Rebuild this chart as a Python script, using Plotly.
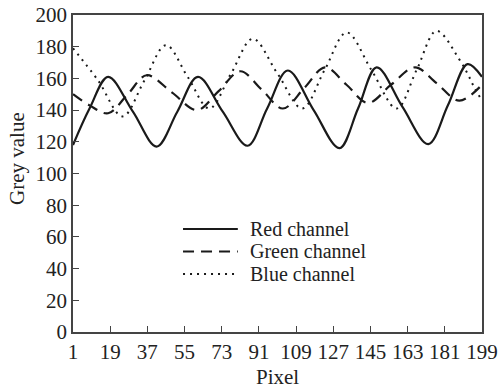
import plotly.graph_objects as go

# Red channel (solid)
red_x = [1, 9, 18, 30, 41.5, 51.5, 61.5, 73.5, 85.5, 95, 105, 117.5, 130, 139, 148, 160.5, 173, 182.5, 192, 199]
red_y = [118, 141, 161, 139, 117, 139, 161, 139, 117.5, 141, 165, 140, 116, 141, 167, 142, 118.5, 143, 169, 161]

# Green channel (dashed)
green_x = [1, 9, 18, 27.5, 36.7, 49, 61, 71.5, 82, 92.3, 102.6, 113, 123, 133.4, 143.8, 155, 166.6, 177, 188, 199]
green_y = [150, 143, 138, 150, 162, 151, 140, 152, 164.5, 153, 141, 154, 167, 156, 144.5, 156, 167, 157, 146, 156]

# Blue channel (dotted)
blue_x = [1, 13, 25, 35.5, 46, 56.5, 67, 77.5, 88, 100, 112, 122.7, 133.5, 145.6, 157.7, 167.4, 177, 188, 192, 195, 199]
blue_y = [179, 159, 136, 158.5, 181, 161, 141, 163, 185, 163, 141, 165, 189, 165, 141, 165.5, 190, 172, 163, 155, 146]

x_ticks = [1, 19, 37, 55, 73, 91, 109, 127, 145, 163, 181, 199]

series = [
    ("Red channel", red_x, red_y, "solid", 2.2),
    ("Green channel", green_x, green_y, "11px,7px", 2.2),
    ("Blue channel", blue_x, blue_y, "2px,5px", 2.0),
]

font_family = "Liberation Serif"
ink = "#1a1a1a"
txt = "#222"

fig = go.Figure()
for name, xs, ys, dash, w in series:
    fig.add_trace(go.Scatter(x=xs, y=ys, mode="lines", name=name, showlegend=False,
                             line=dict(color=ink, width=w, dash=dash, shape="spline", smoothing=1.0)))

# Hand-built legend (compact row spacing as in the reference)
legend_rows_y = [0.325, 0.254, 0.183]
shapes = []
annotations = []
for (name, _, _, dash, w), ly in zip(series, legend_rows_y):
    shapes.append(dict(type="line", xref="paper", yref="paper", x0=0.269, x1=0.403, y0=ly, y1=ly,
                       line=dict(color=ink, width=w, dash=dash)))
    annotations.append(dict(text=name, xref="paper", yref="paper", x=0.428, y=ly,
                            xanchor="left", yanchor="middle", showarrow=False,
                            font=dict(family=font_family, size=20, color=txt)))

# Axis titles
annotations.append(dict(text="Pixel", xref="paper", yref="paper", x=0.5, y=-0.142,
                        xanchor="center", yanchor="middle", showarrow=False,
                        font=dict(family=font_family, size=21, color=txt)))
annotations.append(dict(text="Grey value", xref="paper", yref="paper", x=-0.137, y=0.549,
                        xanchor="center", yanchor="middle", showarrow=False, textangle=-90,
                        font=dict(family=font_family, size=21, color=txt)))

fig.update_layout(
    width=499, height=389,
    margin=dict(l=73, r=17, t=15, b=57),
    paper_bgcolor="white", plot_bgcolor="white",
    font=dict(family=font_family, size=21, color=txt),
    showlegend=False,
    shapes=shapes,
    annotations=annotations,
    xaxis=dict(range=[1, 199], tickvals=x_ticks, ticktext=[str(v) for v in x_ticks],
               ticks="inside", ticklen=6, tickcolor="#444", showgrid=False, zeroline=False,
               showline=True, linecolor="#444", linewidth=1.6, mirror=True, automargin=False,
               tickfont=dict(size=21)),
    yaxis=dict(range=[0, 200], dtick=20, ticks="inside", ticklen=6, tickcolor="#444",
               showgrid=False, zeroline=False, showline=True, linecolor="#444", linewidth=1.6,
               mirror=True, automargin=False, tickfont=dict(size=21)),
)

fig.write_html("out.html")
